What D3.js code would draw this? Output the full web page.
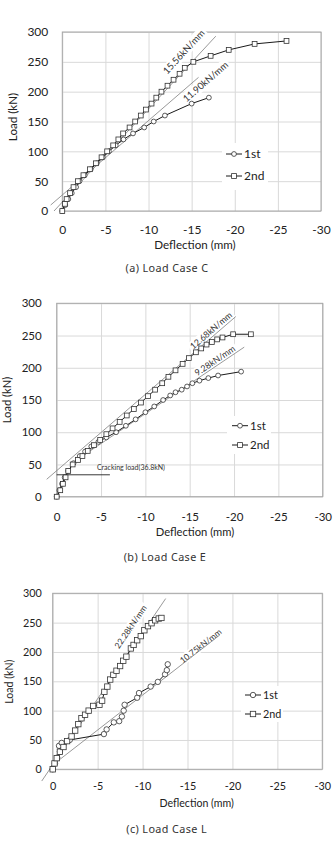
<!DOCTYPE html>
<html>
<head>
<meta charset="utf-8">
<script src="https://cdn.jsdelivr.net/npm/d3@7"></script>
<style>
  body { margin: 0; background: #fff; }
  svg { display: block; }
</style>
</head>
<body>
<script>
// ticks shared by the three panels
var deflTicks = [0, -5, -10, -15, -20, -25, -30];
var loadTicks = [0, 50, 100, 150, 200, 250, 300];
var seriesNames = ["1st", "2nd"];

// (a) Load Case C
var caseC1stDefl = [0, -0.35, -0.7, -1.1, -1.6, -2.0, -2.6, -3.3, -4.0, -4.7, -5.4, -6.2, -7.1, -8.2, -9.5, -10.6, -11.9, -15.0, -17.0];
var caseC1stLoad = [0, 10, 20, 30, 40, 50, 60, 70, 80, 90, 100, 110, 120, 130, 140, 150, 160, 180, 190];
var caseC2ndDefl = [0, -0.3, -0.5, -0.9, -1.3, -1.8, -2.45, -3.2, -3.9, -4.55, -5.2, -5.9, -6.5, -7.05, -7.8, -8.45, -9.1, -9.7, -10.35, -10.9, -11.5, -12.2, -12.9, -13.6, -14.2, -15.2, -17.2, -19.3, -22.3, -26.0];
var caseC2ndLoad = [0, 12, 20, 30, 40, 50, 60, 70, 80, 90, 100, 110, 120, 130, 140, 150, 160, 170, 180, 190, 200, 210, 220, 230, 240, 250, 260, 270, 280, 285];
var caseCFitLabels = ["15.56kN/mm", "11.90kN/mm"];
var caseCFitDefl = [[0.96, -17.8], [1.35, -15.8]];
var caseCFitLoad = [[0, 293], [10, 224]];

// (b) Load Case E
var caseE1stDefl = [0, -0.3, -0.6, -0.9, -1.3, -1.9, -2.6, -3.2, -3.9, -4.7, -5.6, -6.7, -7.8, -8.9, -10.0, -11.0, -12.0, -12.8, -13.4, -14.1, -14.7, -15.3, -16.1, -17.1, -18.2, -20.8];
var caseE1stLoad = [0, 10, 20, 30, 40, 52, 63, 70, 78, 85, 92, 100, 110, 120, 131, 140, 150, 157, 162, 166, 171, 176, 180, 184, 188, 194];
var caseE2ndDefl = [0, -0.4, -0.7, -1.0, -1.3, -1.8, -2.4, -2.9, -3.5, -4.2, -4.9, -5.6, -6.3, -7.1, -7.9, -8.7, -9.5, -10.3, -11.1, -11.9, -12.6, -13.4, -14.2, -14.9, -15.7, -16.3, -16.9, -17.5, -18.1, -18.7, -19.9, -21.9];
var caseE2ndLoad = [0, 10, 20, 30, 40, 50, 57, 63, 71, 80, 88, 97, 106, 116, 126, 136, 146, 156, 166, 176, 186, 196, 206, 215, 224, 230, 236, 240, 244, 247, 252, 252];
var caseEFitLabels = ["12.68kN/mm", "9.28kN/mm"];
var caseEFitDefl = [[1.13, -20.2], [-1.5, -21.15]];
var caseEFitLoad = [[27, 279.5], [50, 232]];
var crackLabel = "Cracking load(36.8kN)";
var crackDefl = [0, -6.0];
var crackLoad = [34, 34];

// (c) Load Case L
var caseL1stDefl = [0, -0.25, -0.5, -0.8, -0.7, -1.0, -1.9, -5.7, -6.0, -6.8, -7.4, -7.7, -7.9, -8.0, -9.4, -9.6, -10.9, -11.7, -12.5, -12.7, -12.8];
var caseL1stLoad = [0, 10, 20, 30, 40, 45, 50, 60, 68, 80, 82, 90, 100, 110, 122, 130, 141, 149, 162, 169, 179];
var caseL2ndDefl = [0, -0.2, -0.45, -0.8, -1.2, -1.6, -2.1, -2.5, -2.85, -3.2, -3.6, -4.0, -4.5, -5.2, -5.5, -5.75, -6.08, -6.4, -6.75, -7.1, -7.5, -7.85, -8.2, -8.7, -9.0, -9.4, -9.8, -10.2, -10.6, -11.0, -11.4, -11.8, -12.1];
var caseL2ndLoad = [0, 10, 19, 30, 38, 48, 56, 66, 77, 87, 93, 100, 108, 110, 117, 132, 141, 153, 161, 168, 176, 185, 192, 206, 212, 220, 227, 237, 244, 249, 254, 257, 258];
var caseLFitLabels = ["22.28kN/mm", "10.75kN/mm"];
var caseLFitDefl = [[1.22, -12.57], [0.2, -18.6]];
var caseLFitLoad = [[-20, 291], [5, 229]];

var FONT = "Lato, 'Open Sans', sans-serif";

var svg = d3.select("body").append("svg")
  .attr("width", 334)
  .attr("height", 846);

function zip(xs, ys) {
  return xs.map(function(v, i) { return [v, ys[i]]; });
}

function drawPanel(p) {
  var x = d3.scaleLinear().domain([deflTicks[0], deflTicks[deflTicks.length - 1]]).range([p.left, p.right]);
  var y = d3.scaleLinear().domain([loadTicks[0], loadTicks[loadTicks.length - 1]]).range([p.bottom, p.top]);
  var g = svg.append("g");

  // grid
  g.append("g")
    .attr("transform", "translate(0," + p.bottom + ")")
    .call(d3.axisBottom(x).tickValues(deflTicks).tickSize(p.top - p.bottom).tickFormat(""))
    .call(function(a) { a.select(".domain").remove(); a.selectAll("line").attr("stroke", "#d9d9d9"); });
  g.append("g")
    .attr("transform", "translate(" + p.left + ",0)")
    .call(d3.axisLeft(y).tickValues(loadTicks).tickSize(p.left - p.right).tickFormat(""))
    .call(function(a) { a.select(".domain").remove(); a.selectAll("line").attr("stroke", "#d9d9d9"); });

  g.append("rect")
    .attr("x", p.left).attr("y", p.top)
    .attr("width", p.right - p.left).attr("height", p.bottom - p.top)
    .attr("fill", "none").attr("stroke", "#a6a6a6");

  // tick labels
  g.append("g")
    .attr("transform", "translate(0," + p.bottom + ")")
    .call(d3.axisBottom(x).tickValues(deflTicks).tickSize(0).tickPadding(p.xLabelY - p.bottom - 0.36 * p.tickFs).tickFormat(function(d) { return String(d); }))
    .call(function(a) { a.select(".domain").remove(); a.selectAll("text").attr("font-family", FONT).attr("font-size", p.tickFs).attr("fill", "#222"); });
  g.append("g")
    .attr("transform", "translate(" + p.left + ",0)")
    .call(d3.axisLeft(y).tickValues(loadTicks).tickSize(0).tickPadding(p.left - p.yLabelX))
    .call(function(a) { a.select(".domain").remove(); a.selectAll("text").attr("font-family", FONT).attr("font-size", p.tickFs).attr("fill", "#222"); });

  // axis titles
  g.append("text")
    .attr("x", p.xTitle[0]).attr("y", p.xTitle[1])
    .attr("dy", "0.35em")
    .attr("text-anchor", "middle")
    .attr("font-family", FONT).attr("font-size", p.titleFs).attr("fill", "#222")
    .text("Deflection (mm)");
  g.append("text")
    .attr("transform", "translate(" + p.yTitle[0] + "," + p.yTitle[1] + ") rotate(-90)")
    .attr("dy", "0.35em")
    .attr("text-anchor", "middle")
    .attr("font-family", FONT).attr("font-size", p.titleFs).attr("fill", "#222")
    .text("Load (kN)");

  // caption under the chart
  svg.append("text")
    .attr("x", p.caption[0]).attr("y", p.caption[1])
    .attr("dy", "0.35em")
    .attr("text-anchor", "middle")
    .attr("font-family", "'Noto Sans', sans-serif").attr("font-size", 10.8)
    .attr("letter-spacing", 0.4).attr("fill", "#333")
    .text(p.captionText);

  // slope labels sit on white boxes that mask the grid
  var labelG = g.append("g");
  var fitG = g.append("g");
  p.fitLabels.forEach(function(lab, i) {
    var x0 = x(p.fitDefl[i][0]), y0 = y(p.fitLoad[i][0]);
    var x1 = x(p.fitDefl[i][1]), y1 = y(p.fitLoad[i][1]);
    fitG.append("line")
      .attr("x1", x0).attr("y1", y0).attr("x2", x1).attr("y2", y1)
      .attr("stroke", "#7f7f7f").attr("stroke-width", 0.8);
    var ang = Math.atan2(y1 - y0, x1 - x0) * 180 / Math.PI;
    var t = labelG.append("g")
      .attr("transform", "translate(" + x(p.labelAt[i][0]) + "," + y(p.labelAt[i][1]) + ") rotate(" + ang + ")");
    var box = t.append("rect").attr("fill", "#fff");
    var txt = t.append("text")
      .attr("text-anchor", "middle").attr("dy", "0.35em")
      .attr("font-family", FONT).attr("font-size", p.labelFs).attr("fill", "#333")
      .text(lab);
    var w = txt.node().getComputedTextLength();
    box.attr("x", -w / 2 - 2).attr("y", -p.labelFs * 0.6).attr("width", w + 4).attr("height", p.labelFs * 1.2);
  });

  if (p.crack) {
    fitG.append("line")
      .attr("x1", x(crackDefl[0])).attr("y1", y(crackLoad[0]))
      .attr("x2", x(crackDefl[1])).attr("y2", y(crackLoad[1]))
      .attr("stroke", "#222").attr("stroke-width", 0.9);
    fitG.append("text")
      .attr("x", x(p.crack[0])).attr("y", y(p.crack[1]))
      .attr("font-family", FONT).attr("font-size", 7).attr("fill", "#333")
      .text(crackLabel);
  }

  // data series
  var line = d3.line().x(function(d) { return x(d[0]); }).y(function(d) { return y(d[1]); });
  var series = [zip(p.first[0], p.first[1]), zip(p.second[0], p.second[1])];
  series.forEach(function(pts) {
    g.append("path").datum(pts)
      .attr("d", line)
      .attr("fill", "none").attr("stroke", "#1a1a1a").attr("stroke-width", 1);
  });
  series.forEach(function(pts, si) {
    drawMarkers(g, pts.map(function(d) { return [x(d[0]), y(d[1])]; }), si, p.mk);
  });

  // legend
  var lg = g.append("g");
  lg.append("rect")
    .attr("x", p.legendBox[0]).attr("y", p.legendBox[1])
    .attr("width", p.legendBox[2]).attr("height", p.legendBox[3])
    .attr("fill", "#fff");
  seriesNames.forEach(function(name, si) {
    var ly = p.legend[1] + si * p.legend[2];
    var lx = p.legend[0];
    lg.append("line").attr("x1", lx).attr("x2", lx + 16).attr("y1", ly).attr("y2", ly)
      .attr("stroke", "#1a1a1a").attr("stroke-width", 1);
    drawMarkers(lg, [[lx + 8, ly]], si, p.mk);
    lg.append("text")
      .attr("x", lx + 18).attr("y", ly).attr("dy", "0.35em")
      .attr("font-family", FONT).attr("font-size", p.legendFs).attr("fill", "#222")
      .text(name);
  });
}

function drawMarkers(g, pts, si, size) {
  if (si === 0) {
    g.selectAll(null).data(pts).join("circle")
      .attr("cx", function(d) { return d[0]; }).attr("cy", function(d) { return d[1]; })
      .attr("r", size / 2)
      .attr("fill", "#fff").attr("stroke", "#333").attr("stroke-width", 0.8);
  } else {
    g.selectAll(null).data(pts).join("rect")
      .attr("x", function(d) { return d[0] - size / 2; }).attr("y", function(d) { return d[1] - size / 2; })
      .attr("width", size).attr("height", size)
      .attr("fill", "#fff").attr("stroke", "#333").attr("stroke-width", 0.8);
  }
}

drawPanel({
  left: 62.3, right: 321, top: 32, bottom: 211,
  tickFs: 12, titleFs: 11.6, labelFs: 9.5, legendFs: 12, mk: 4.8,
  xLabelY: 230, yLabelX: 48.3,
  xTitle: [195, 245], yTitle: [13, 117],
  caption: [167, 268], captionText: "(a)  Load Case C",
  first: [caseC1stDefl, caseC1stLoad], second: [caseC2ndDefl, caseC2ndLoad],
  fitLabels: caseCFitLabels, fitDefl: caseCFitDefl, fitLoad: caseCFitLoad,
  labelAt: [[-14.1, 266.8], [-16.6, 216.6]],
  legend: [226, 154, 22], legendBox: [222, 143, 46, 47]
});

drawPanel({
  left: 56.7, right: 322.7, top: 303.3, bottom: 496.7,
  tickFs: 11.5, titleFs: 11.2, labelFs: 8.8, legendFs: 11.5, mk: 4.8,
  xLabelY: 516.7, yLabelX: 41.7,
  xTitle: [195, 531.7], yTitle: [7.5, 400],
  caption: [165, 557.3], captionText: "(b)  Load Case E",
  first: [caseE1stDefl, caseE1stLoad], second: [caseE2ndDefl, caseE2ndLoad],
  fitLabels: caseEFitLabels, fitDefl: caseEFitDefl, fitLoad: caseEFitLoad,
  labelAt: [[-17.4, 257.8], [-17.85, 211]],
  crack: [-4.54, 40.7],
  legend: [232, 425.7, 19.3], legendBox: [227, 416, 44, 38]
});

drawPanel({
  left: 52.7, right: 322.3, top: 593.3, bottom: 769.3,
  tickFs: 10.8, titleFs: 10.6, labelFs: 8.5, legendFs: 10.8, mk: 5.4,
  xLabelY: 786.7, yLabelX: 41.7,
  xTitle: [196.7, 803], yTitle: [9, 681.7],
  caption: [166.7, 829], captionText: "(c)  Load Case L",
  first: [caseL1stDefl, caseL1stLoad], second: [caseL2ndDefl, caseL2ndLoad],
  fitLabels: caseLFitLabels, fitDefl: caseLFitDefl, fitLoad: caseLFitLoad,
  labelAt: [[-8.68, 243], [-16.46, 210]],
  legend: [245, 695, 19], legendBox: [241, 686, 42, 36]
});
</script>
</body>
</html>
